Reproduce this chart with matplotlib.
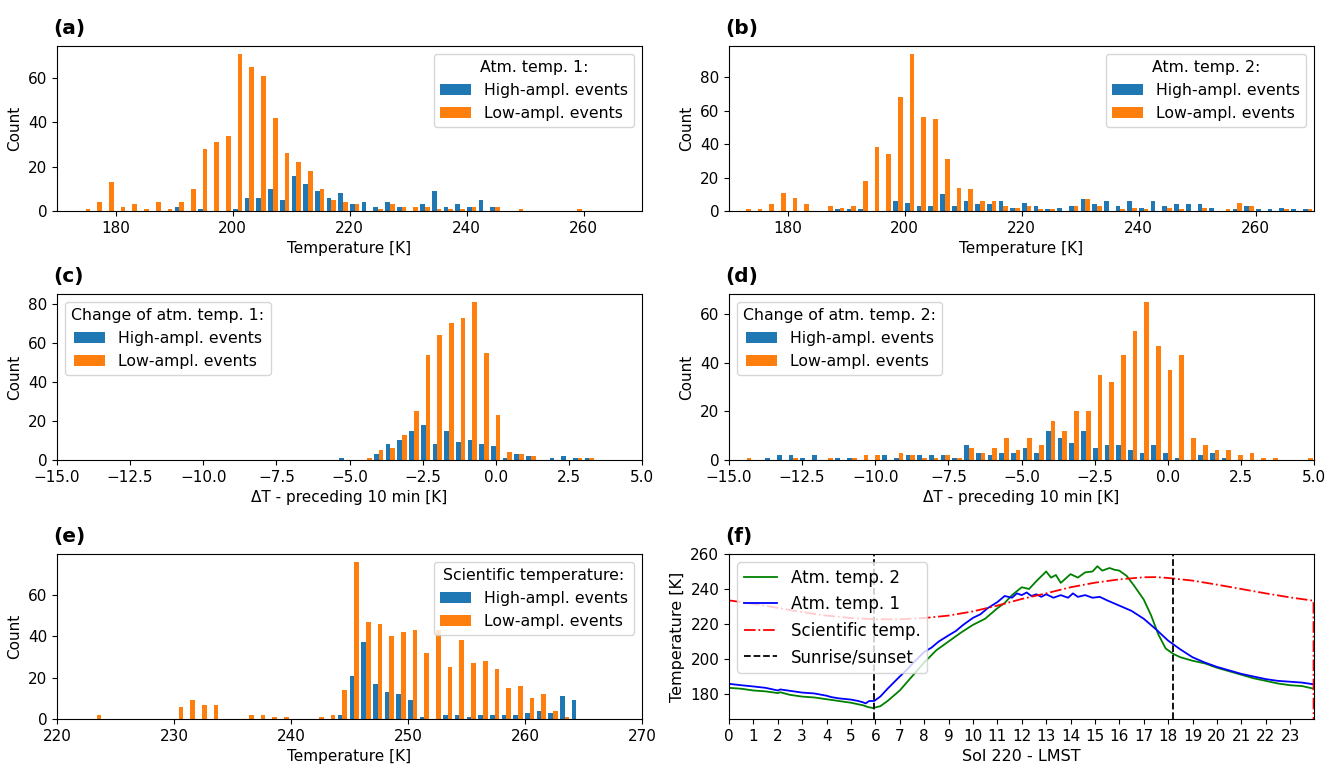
import numpy as np
import matplotlib
matplotlib.use("Agg")
import matplotlib.pyplot as plt

# ---------------- data ----------------
# (a) Atm. temp. 1 histogram, 2 K bins
a_bin_start, a_bin_width = 173.9, 2.0
a_high = [0, 0, 0, 0, 0, 0, 0, 0, 2, 0, 1, 0, 0, 1, 6, 6, 10, 5, 16, 12, 9, 6,
          8, 3, 4, 2, 4, 2, 0, 3, 9, 2, 3, 2, 5, 2, 0, 0, 0, 0, 0, 0, 0]
a_low = [1, 4, 13, 2, 3, 1, 4, 1, 4, 10, 28, 31, 34, 71, 65, 61, 42, 26, 22, 18, 10, 5,
         4, 3, 0, 1, 3, 2, 2, 2, 1, 1, 1, 2, 0, 2, 0, 1, 0, 0, 0, 0, 1]

# (b) Atm. temp. 2 histogram, 2 K bins
b_bin_start, b_bin_width = 171.9, 2.0
b_high = [0, 0, 0, 0, 0, 0, 0, 0, 1, 1, 1, 0, 0, 6, 5, 3, 3, 10, 3, 6, 4, 4, 6, 2, 5,
          3, 1, 2, 3, 7, 4, 6, 3, 6, 2, 6, 3, 4, 4, 4, 2, 0, 1, 3, 1, 1, 2, 1, 1]
b_low = [1, 1, 4, 11, 8, 4, 0, 3, 2, 3, 18, 38, 34, 68, 94, 56, 55, 31, 14, 13, 6, 6, 3, 2, 3,
         1, 1, 0, 3, 7, 3, 0, 1, 2, 1, 0, 2, 1, 0, 2, 0, 1, 5, 3, 0, 0, 1, 0, 1]

# (c) Change of atm. temp. 1, 0.4 K bins
c_bin_start, c_bin_width = -5.4, 0.4
c_high = [1, 0, 0, 3, 8, 10, 15, 18, 8, 15, 9, 10, 8, 7, 1, 3, 2, 0, 1, 2, 1, 1]
c_low = [0, 0, 1, 5, 6, 13, 25, 54, 64, 70, 73, 81, 55, 23, 4, 3, 2, 0, 0, 0, 1, 1]

# (d) Change of atm. temp. 2, 0.4 K bins
d_bin_start, d_bin_width = -14.6, 0.4
d_high = [0, 0, 1, 2, 2, 1, 2, 0, 1, 1, 0, 0, 2, 1, 2, 2, 2, 2, 1, 6, 3, 2, 3, 3, 5,
          3, 12, 9, 7, 12, 5, 6, 6, 4, 3, 6, 3, 1, 0, 2, 3, 1, 0, 0, 0, 0, 0, 0, 0]
d_low = [1, 0, 0, 0, 1, 0, 0, 1, 0, 1, 2, 2, 0, 3, 2, 1, 1, 2, 1, 5, 3, 5, 9, 4, 9,
         6, 16, 12, 20, 20, 35, 32, 43, 53, 65, 47, 37, 43, 9, 6, 4, 4, 2, 3, 1, 1, 0, 0, 1]

# (e) Scientific temperature, 1 K bins
e_bin_start, e_bin_width = 222.9, 1.0
e_high = [0, 0, 0, 0, 0, 0, 0, 0, 0, 0, 0, 0, 0, 0, 0, 0, 0, 0, 0, 0, 0, 2,
          21, 37, 17, 13, 12, 9, 1, 0, 2, 2, 1, 2, 2, 2, 2, 3, 4, 3, 11, 9]
e_low = [2, 0, 0, 0, 0, 0, 0, 6, 9, 7, 7, 0, 0, 2, 2, 1, 1, 0, 0, 1, 2, 14,
         76, 47, 46, 40, 42, 43, 32, 43, 25, 38, 27, 28, 24, 15, 16, 10, 12, 4, 1, 0]

# (f) Sol 220 temperatures
t1_hours = [0, 0.5, 1, 1.5, 2, 2.1, 2.5, 3, 3.5, 4, 4.2, 4.5, 5, 5.3, 5.5, 5.6, 5.75, 5.95,
            6.2, 6.5, 7, 7.3, 7.6, 8, 8.3, 8.6, 9, 9.3, 9.6, 10, 10.3, 10.6, 11, 11.3, 11.6,
            11.8, 12, 12.2, 12.4, 12.6, 12.8, 13, 13.3, 13.6, 13.9, 14.1, 14.3, 14.6, 14.9,
            15.2, 15.5, 16, 16.5, 17, 17.5, 18, 18.5, 19, 19.5, 20, 20.5, 21, 21.5,
            22, 22.5, 23, 23.5, 23.97]
t1_vals = [185.8, 185, 184.3, 183.5, 182, 182.6, 181.8, 180.8, 180.3, 179, 178.2, 177.5,
           176.8, 176, 175.2, 174.6, 176, 176, 178.5, 183, 190, 194, 198.5, 204, 206.5,
           210, 213.5, 216, 219.5, 223.5, 225.5, 229, 232.5, 236, 235, 237.5, 236.5, 238,
           236, 237, 235.5, 237, 235, 236.5, 235, 237.5, 235.5, 236.5, 235, 235.5, 233.5,
           230.5, 227.5, 223, 217, 210.5, 205.5, 201, 198, 195.5, 193.5, 191.5, 190, 188.5,
           187.5, 187, 186.5, 185.5]

t2_hours = [0, 0.5, 1, 1.5, 2, 2.1, 2.5, 3, 3.5, 4, 4.5, 5, 5.5, 5.7, 5.9, 6.2, 6.5, 7,
            7.5, 8, 8.5, 9, 9.5, 10, 10.5, 11, 11.3, 11.6, 12, 12.3, 12.6, 13, 13.2, 13.4,
            13.6, 13.8, 14, 14.3, 14.6, 14.9, 15.1, 15.3, 15.6, 15.8, 16, 16.3, 16.6, 17,
            17.3, 17.6, 17.9, 18.2, 18.5, 19, 19.5, 20, 20.5, 21, 21.5, 22, 22.5, 23,
            23.5, 23.97]
t2_vals = [183.5, 183, 182, 181.5, 180.5, 181, 179.5, 178.5, 178, 177, 176, 175, 173.5,
           172.5, 172, 173, 176, 182, 190, 198, 205, 210, 215, 219.5, 223, 229, 232, 236.5,
           241, 240, 244.5, 250, 246.5, 248, 243.5, 246, 248.5, 246.5, 249.5, 250, 253,
           250.5, 252, 251, 250.5, 247.5, 242, 234, 225, 214, 206, 203, 201, 199, 197.5,
           195, 193, 191, 189, 187.5, 186, 185, 184.5, 183]

sci_hours = [0, 1, 2, 3, 4, 5, 6, 7, 8, 9, 10, 11, 12, 13, 14, 15, 16, 17, 17.5, 18,
             19, 20, 21, 22, 23, 23.96, 23.97]
sci_vals = [233.5, 231.5, 229.2, 226.8, 224.8, 223.4, 222.7, 222.7, 223.4, 224.8, 227.2,
            230.5, 234.3, 237.5, 241, 243.6, 245.5, 246.7, 246.8, 246.3, 244.8, 242.5,
            240, 237.5, 235.2, 233.3, 0.0]

sun_times = [5.95, 18.18]
hour_ticks = list(range(24))

# ---------------- figure ----------------
plt.rcParams['font.family'] = ['DejaVu Sans']
plt.rcParams['font.size'] = 11
fig = plt.figure(figsize=(13.4, 7.65), dpi=100)

W, H = 1340.0, 765.0
def rect(l, t, r, b):
    return [l / W, 1 - b / H, (r - l) / W, (b - t) / H]

LX = (57, 642)
RX = (729, 1314)
ROWS = [(46, 211), (294, 460), (554, 719)]

ax_a = fig.add_axes(rect(LX[0], ROWS[0][0], LX[1], ROWS[0][1]))
ax_b = fig.add_axes(rect(RX[0], ROWS[0][0], RX[1], ROWS[0][1]))
ax_c = fig.add_axes(rect(LX[0], ROWS[1][0], LX[1], ROWS[1][1]))
ax_d = fig.add_axes(rect(RX[0], ROWS[1][0], RX[1], ROWS[1][1]))
ax_e = fig.add_axes(rect(LX[0], ROWS[2][0], LX[1], ROWS[2][1]))
ax_f = fig.add_axes(rect(RX[0], ROWS[2][0], RX[1], ROWS[2][1]))

labels = ['High-ampl. events', 'Low-ampl. events']
colors = ['#1f77b4', '#ff7f0e']

def draw_hist(ax, start, width, high, low):
    n = len(high)
    edges = start + width * np.arange(n + 1)
    centers = 0.5 * (edges[:-1] + edges[1:])
    ax.hist([centers, centers], bins=edges, weights=[high, low],
            color=colors, label=labels)

draw_hist(ax_a, a_bin_start, a_bin_width, a_high, a_low)
draw_hist(ax_b, b_bin_start, b_bin_width, b_high, b_low)
draw_hist(ax_c, c_bin_start, c_bin_width, c_high, c_low)
draw_hist(ax_d, d_bin_start, d_bin_width, d_high, d_low)
draw_hist(ax_e, e_bin_start, e_bin_width, e_high, e_low)

for ax in (ax_a, ax_b):
    ax.set_xlim(170, 270)
    ax.set_xticks([180, 200, 220, 240, 260])
    ax.set_xlabel('Temperature [K]')
for ax in (ax_c, ax_d):
    ax.set_xlim(-15, 5)
    ax.set_xticks(np.arange(-15, 5.01, 2.5))
    ax.set_xlabel('ΔT - preceding 10 min [K]')
ax_e.set_xlim(220, 270)
ax_e.set_xlabel('Temperature [K]')
for ax in (ax_a, ax_b, ax_c, ax_d, ax_e):
    ax.set_ylabel('Count')

lfs = 11.3
ax_a.legend(title='Atm. temp. 1:', loc='upper right', fontsize=lfs, title_fontsize=lfs)
ax_b.legend(title='Atm. temp. 2:', loc='upper right', fontsize=lfs, title_fontsize=lfs)
ax_c.legend(title='Change of atm. temp. 1:', loc='upper left', fontsize=lfs, title_fontsize=lfs)
ax_d.legend(title='Change of atm. temp. 2:', loc='upper left', fontsize=lfs, title_fontsize=lfs)
ax_e.legend(title='Scientific temperature:', loc='upper right', fontsize=lfs, title_fontsize=lfs)

# (f)
ax_f.plot(t2_hours, t2_vals, color='green', lw=1.3, label='Atm. temp. 2')
ax_f.plot(t1_hours, t1_vals, color='blue', lw=1.3, label='Atm. temp. 1')
ax_f.plot(sci_hours, sci_vals, color='red', ls='-.', lw=1.3, label='Scientific temp.')
for i, st in enumerate(sun_times):
    ax_f.axvline(st, color='black', ls='--', lw=1.3,
                 label='Sunrise/sunset' if i == 0 else None)
ax_f.set_xlim(0, 23.98)
ax_f.set_ylim(165.7, 260)
ax_f.set_xticks(hour_ticks)
ax_f.set_yticks([180, 200, 220, 240, 260])
ax_f.set_xlabel('Sol 220 - LMST', fontsize=11.5)
ax_f.set_ylabel('Temperature [K]', fontsize=11.5)
ax_f.legend(loc='upper left', fontsize=12)

for ax, lab in zip((ax_a, ax_b, ax_c, ax_d, ax_e, ax_f),
                   ('(a)', '(b)', '(c)', '(d)', '(e)', '(f)')):
    ax.text(-0.007, 1.05, lab, transform=ax.transAxes, ha='left', va='bottom',
            fontsize=14.5, fontweight='bold')
    ax.tick_params(labelsize=11)

fig.savefig('out.png', dpi=100)
